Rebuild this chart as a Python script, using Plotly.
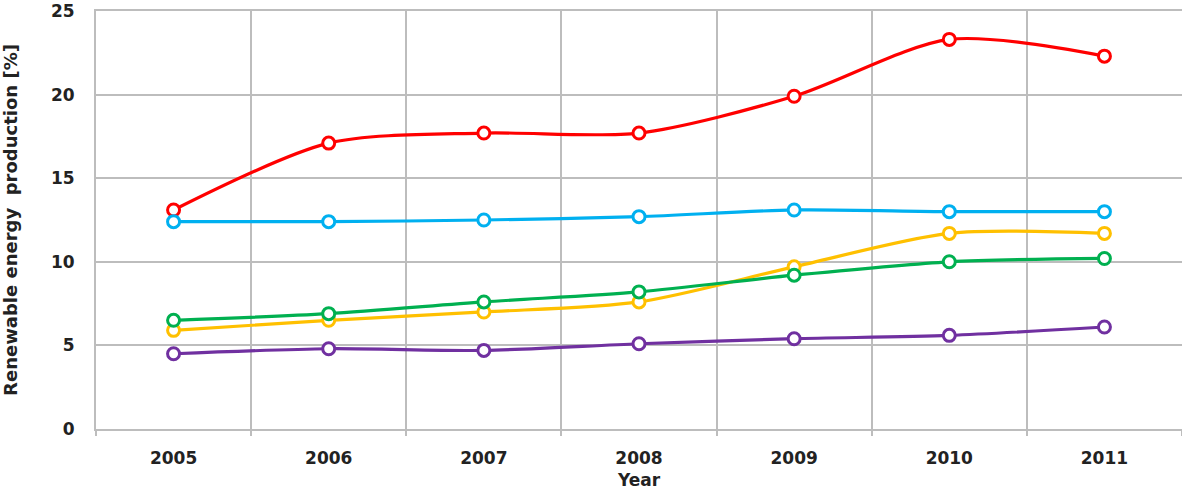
import plotly.graph_objects as go

years = ["2005", "2006", "2007", "2008", "2009", "2010", "2011"]
red_vals = [13.1, 17.1, 17.7, 17.7, 19.9, 23.3, 22.3]
blue_vals = [12.4, 12.4, 12.5, 12.7, 13.1, 13.0, 13.0]
yellow_vals = [5.9, 6.5, 7.0, 7.6, 9.7, 11.7, 11.7]
green_vals = [6.5, 6.9, 7.6, 8.2, 9.2, 10.0, 10.2]
purple_vals = [4.5, 4.8, 4.7, 5.1, 5.4, 5.6, 6.1]

series = [
    ("Series 1", red_vals, "#FF0000"),
    ("Series 2", blue_vals, "#00B0F0"),
    ("Series 3", yellow_vals, "#FFC000"),
    ("Series 4", green_vals, "#00B050"),
    ("Series 5", purple_vals, "#7030A0"),
]

fig = go.Figure()
for name, vals, col in series:
    fig.add_trace(go.Scatter(
        x=years, y=vals, name=name, mode="lines+markers",
        line=dict(color=col, width=3.2, shape="spline", smoothing=0.8),
        marker=dict(symbol="circle", size=12, color="white",
                    line=dict(color=col, width=3)),
        cliponaxis=False,
    ))

font_fam = "DejaVu Sans, Verdana, sans-serif"
grid_col = "#BDBDBD"
txt_col = "#222222"
fig.update_layout(
    width=1182, height=490,
    margin=dict(l=96, r=0, t=11, b=61),
    plot_bgcolor="white", paper_bgcolor="white",
    showlegend=False,
    font=dict(family=font_fam, size=17, color=txt_col),
    xaxis=dict(
        type="category", tickson="boundaries", range=[-0.5, 6.5],
        automargin=False,
        showgrid=True, gridcolor=grid_col, gridwidth=2,
        showline=True, linecolor=grid_col, linewidth=2, mirror=True,
        ticks="outside", ticklen=5, tickcolor=grid_col, tickwidth=2,
        ticklabelstandoff=13,
        tickfont=dict(family=font_fam, size=17, color=txt_col, weight="bold"),
        title=dict(text="Year", standoff=17,
                   font=dict(family=font_fam, size=17, color=txt_col, weight="bold")),
    ),
    yaxis=dict(
        range=[0, 25], tickvals=[0, 5, 10, 15, 20, 25],
        automargin=False,
        showgrid=True, gridcolor=grid_col, gridwidth=2,
        showline=True, linecolor=grid_col, linewidth=2, mirror=True,
        zeroline=False, ticks="", ticklabelstandoff=16,
        ticklabeloverflow="allow",
        tickfont=dict(family=font_fam, size=17, color=txt_col, weight="bold"),
        title=dict(text="Renewable energy  production [%]", standoff=30,
                   font=dict(family=font_fam, size=18, color=txt_col, weight=600)),
    ),
)

fig.write_html("out.html")
